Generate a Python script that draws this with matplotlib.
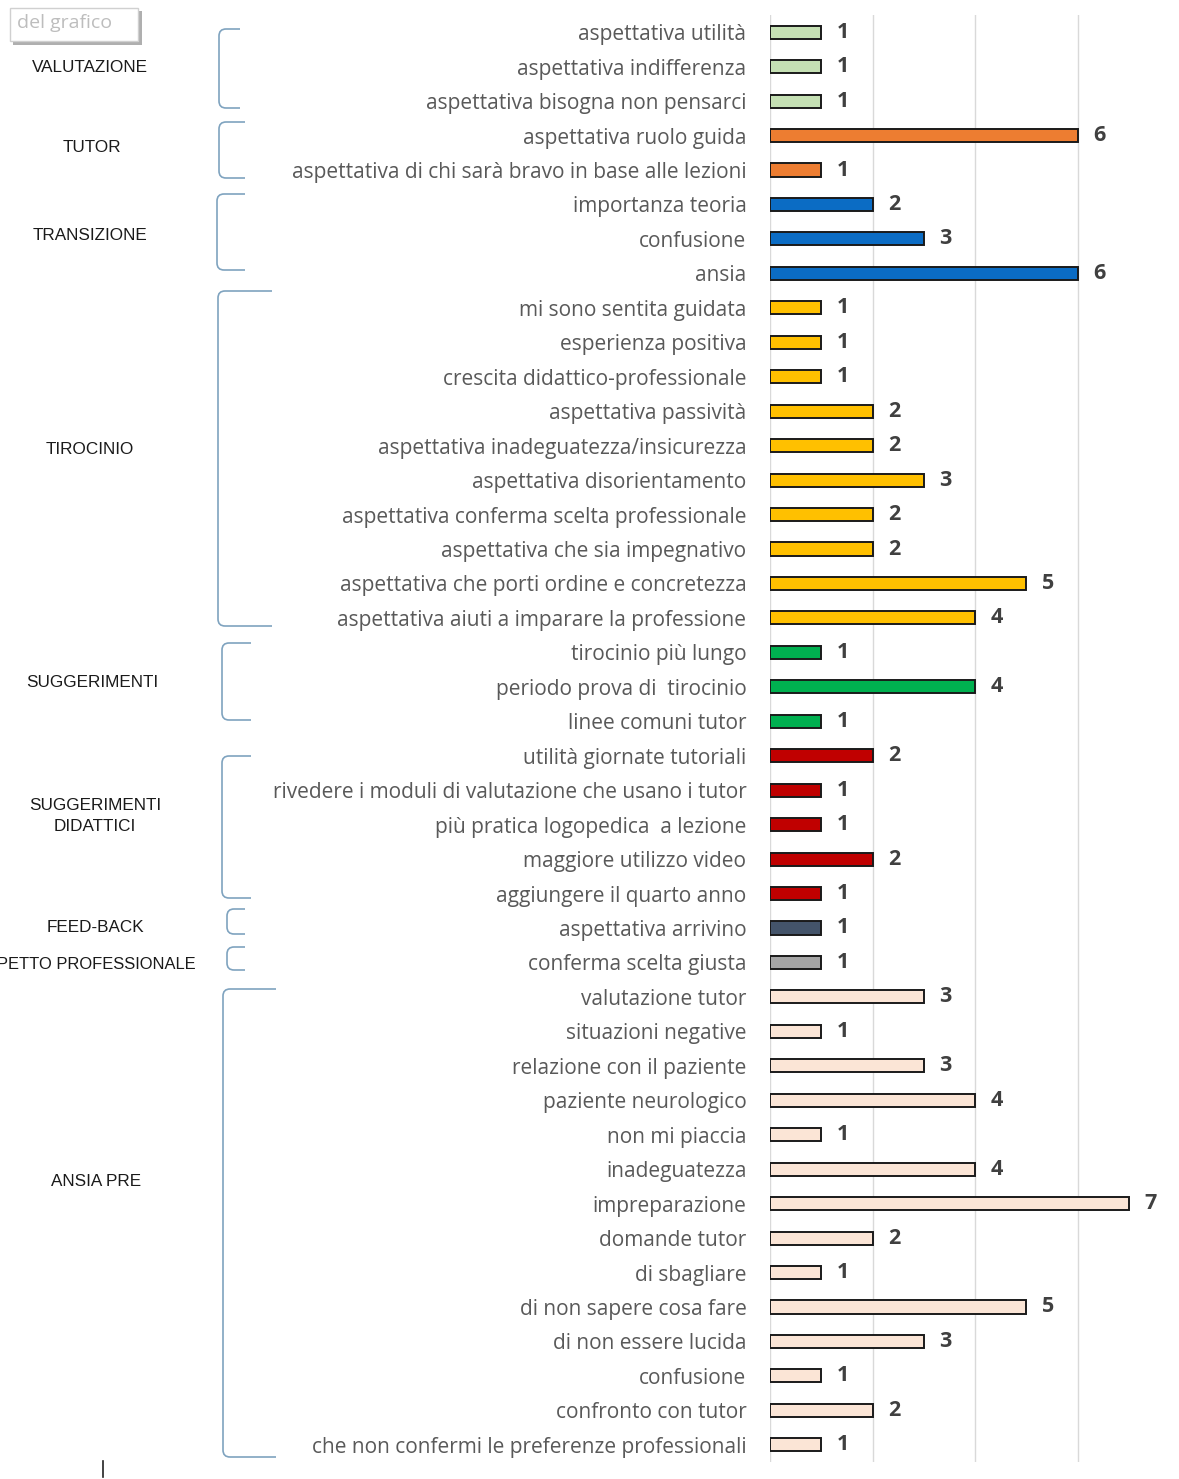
import matplotlib
matplotlib.use("Agg")
import matplotlib.pyplot as plt
from matplotlib.path import Path
from matplotlib.patches import PathPatch, Rectangle
from matplotlib.lines import Line2D

# ---- data ----
categories = [
    "aspettativa utilità", "aspettativa indifferenza", "aspettativa bisogna non pensarci",
    "aspettativa ruolo guida", "aspettativa di chi sarà bravo in base alle lezioni",
    "importanza teoria", "confusione", "ansia",
    "mi sono sentita guidata", "esperienza positiva", "crescita didattico-professionale",
    "aspettativa passività", "aspettativa inadeguatezza/insicurezza",
    "aspettativa disorientamento", "aspettativa conferma scelta professionale",
    "aspettativa che sia impegnativo", "aspettativa che porti ordine e concretezza",
    "aspettativa aiuti a imparare la professione",
    "tirocinio più lungo", "periodo prova di  tirocinio", "linee comuni tutor",
    "utilità giornate tutoriali", "rivedere i moduli di valutazione che usano i tutor",
    "più pratica logopedica  a lezione", "maggiore utilizzo video", "aggiungere il quarto anno",
    "aspettativa arrivino",
    "conferma scelta giusta",
    "valutazione tutor", "situazioni negative", "relazione con il paziente",
    "paziente neurologico", "non mi piaccia", "inadeguatezza", "impreparazione",
    "domande tutor", "di sbagliare", "di non sapere cosa fare", "di non essere lucida",
    "confusione", "confronto con tutor", "che non confermi le preferenze professionali",
]
values = [1, 1, 1,
          6, 1,
          2, 3, 6,
          1, 1, 1, 2, 2, 3, 2, 2, 5, 4,
          1, 4, 1,
          2, 1, 1, 2, 1,
          1,
          1,
          3, 1, 3, 4, 1, 4, 7, 2, 1, 5, 3, 1, 2, 1]

groups = ["VALUTAZIONE", "TUTOR", "TRANSIZIONE", "TIROCINIO", "SUGGERIMENTI",
          "SUGGERIMENTI\nDIDATTICI", "FEED-BACK", "ASPETTO PROFESSIONALE", "ANSIA PRE"]
group_sizes = [3, 2, 3, 10, 3, 5, 1, 1, 14]

# ---- style ----
group_colors = ["#C5E0B4", "#ED7D31", "#0B6CC4", "#FFC000", "#00B050",
                "#C00000", "#44546A", "#A5A5A5", "#FBE5D6"]
# label anchor (x px, y px, ha, size) and bracket (vertical x, tip x, top y, bottom y), in pixels
group_label_pos = [(90, 68, "center", 12.3), (92, 148, "center", 12.3),
                   (90, 235, "center", 12.3), (90, 450, "center", 12.3),
                   (92, 683, "center", 12.3), (95, 816, "center", 12.3),
                   (95, 927, "center", 12.3), (196, 964, "right", 11.9),
                   (96, 1181, "center", 12.3)]
brackets = [(219, 240, 29, 108), (219, 245, 122, 178), (217, 245, 194, 270),
            (218, 272, 291, 626), (222, 251, 643, 720), (222, 251, 756, 898),
            (227, 245, 909, 934), (227, 245, 947, 970), (223, 276, 989, 1457)]

W, H = 1179, 1479
fig = plt.figure(figsize=(W / 100, H / 100), dpi=100)
fig.patch.set_facecolor("white")

def fx(x):
    return x / W

def fy(y):
    return 1 - y / H

label_font = ["Open Sans", "DejaVu Sans"]
group_font = ["Liberation Sans", "DejaVu Sans"]

ax = fig.add_axes([fx(770), fy(1462), fx(1180) - fx(770), fy(15) - fy(1462)])
bar_colors = []
for c, n in zip(group_colors, group_sizes):
    bar_colors += [c] * n

ypos = list(range(len(categories)))
ax.barh(ypos, values, height=0.38, color=bar_colors, edgecolor="#1a1a1a",
        linewidth=1.4, zorder=3)
ax.set_xlim(0, 8)
ax.set_ylim(len(categories) - 0.5, -0.5)
ax.set_xticks([0, 2, 4, 6, 8])
ax.xaxis.grid(True, color="#D9D9D9", linewidth=1.0, zorder=0)
ax.tick_params(axis="x", length=0, labelbottom=False)
ax.set_yticks(ypos)
ax.set_yticklabels(categories, fontsize=15, color="#595959", family=label_font)
ax.tick_params(axis="y", length=0, pad=17)
for s in ax.spines.values():
    s.set_visible(False)

for y, v in zip(ypos, values):
    ax.annotate(str(v), xy=(v, y), xytext=(11, 0), textcoords="offset points",
                ha="left", va="center", fontsize=15.5, fontweight="bold",
                color="#404040", family=label_font, annotation_clip=False)

# group titles on the left
for name, (x, y, ha, size) in zip(groups, group_label_pos):
    fig.text(fx(x), fy(y), name, ha=ha, va="center", fontsize=size,
             color="#1a1a1a", family=group_font, linespacing=1.45,
             multialignment="center")

# square brackets framing each group
r = 7
for xv, xt, top, bot in brackets:
    verts = [(xt, top), (xv + r, top), (xv, top), (xv, top + r),
             (xv, bot - r), (xv, bot), (xv + r, bot), (xt, bot)]
    codes = [Path.MOVETO, Path.LINETO, Path.CURVE3, Path.CURVE3,
             Path.LINETO, Path.CURVE3, Path.CURVE3, Path.LINETO]
    verts = [(fx(a), fy(b)) for a, b in verts]
    fig.add_artist(PathPatch(Path(verts, codes), fill=False, edgecolor="#7FA3BF",
                             linewidth=1.2, transform=fig.transFigure))

# chart-area tooltip in the top-left corner
fig.add_artist(Rectangle((fx(13), fy(45)), fx(142) - fx(13), fy(11) - fy(45),
                         transform=fig.transFigure, facecolor="#7a7a7a",
                         edgecolor="none", alpha=0.6))
fig.add_artist(Rectangle((fx(10), fy(41)), fx(138) - fx(10), fy(8) - fy(41),
                         transform=fig.transFigure, facecolor="white",
                         edgecolor="#D0D0D0", linewidth=1.0))
fig.text(fx(17), fy(23), "del grafico", ha="left", va="center", fontsize=14,
         color="#BDBDBD", family=label_font)

# text cursor near the bottom
fig.add_artist(Line2D([fx(103), fx(103)], [fy(1461), fy(1477)],
                      transform=fig.transFigure, color="#222222", linewidth=1.2))

fig.savefig("out.png", dpi=100, facecolor="white")
